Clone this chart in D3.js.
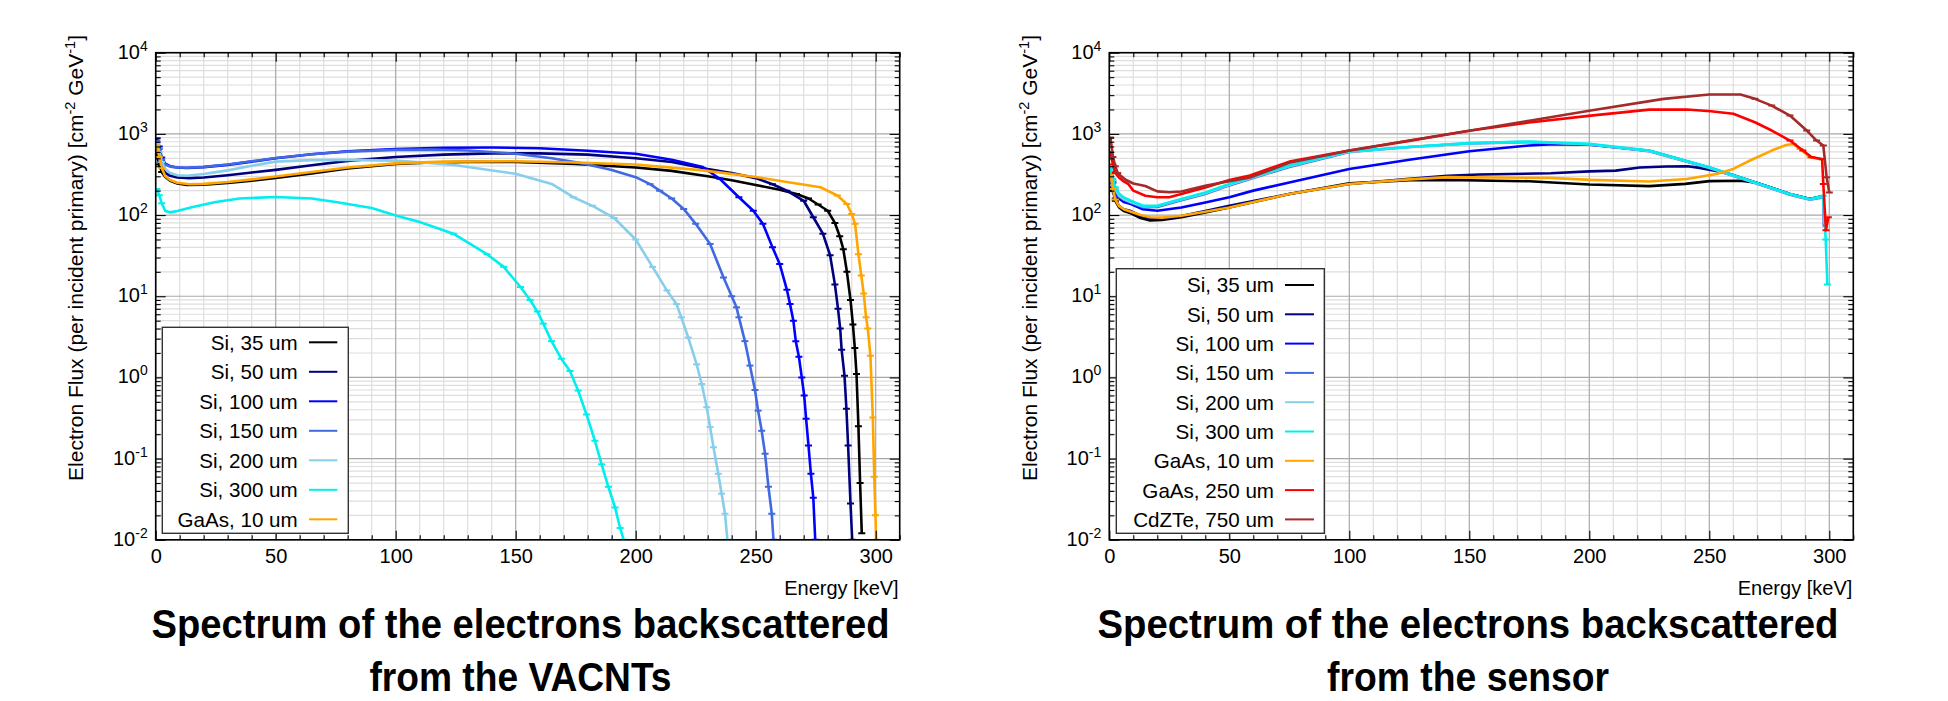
<!DOCTYPE html>
<html><head><meta charset="utf-8">
<script src="https://cdn.jsdelivr.net/npm/d3@7"></script>
<style>
body{margin:0;background:#fff;}
svg{display:block;}
text{font-family:"Liberation Sans",Arial,Helvetica,sans-serif;fill:#000;}
</style>
</head><body>
<svg id="chart" width="1948" height="701"></svg>
<script>
// ---------------- data ----------------
const xTicks = [0, 50, 100, 150, 200, 250, 300];
const yExponents = [-2, -1, 0, 1, 2, 3, 4];
const xTitle = "Energy [keV]";
const titlesVacnt = ["Spectrum of the electrons backscattered", "from the VACNTs"];
const titlesSensor = ["Spectrum of the electrons backscattered", "from the sensor"];
const seriesNames = ["Si, 35 um", "Si, 50 um", "Si, 100 um", "Si, 150 um", "Si, 200 um", "Si, 300 um", "GaAs, 10 um", "GaAs, 250 um", "CdZTe, 750 um"];
const seriesColors = ["#000000", "#000080", "#0000ff", "#4169e1", "#87ceeb", "#00eeee", "#ffa500", "#ff0000", "#a52a2a"];

// VACNTs panel: [energy keV, flux]
const vacntSi35 = [[0.5,560],[1.5,420],[2.5,340],[4,295],[6,265],[9,245],[13,235],[20,236],[30,248],[40,265],[50,287],[65,325],[80,375],[100,425],[115,445],[130,452],[150,450],[175,425],[200,385],[215,350],[230,300],[240,268],[250,235],[260,205],[267,182],[272,160],[276,135],[280,113],[283,80],[285,55],[286.5,38],[288,20],[289.5,9],[290.5,4.5],[291.3,2.3],[292,1.1],[292.8,0.25],[293.5,0.05],[294.2,0.012]];
const vacntSi50 = [[0.5,700],[1.5,520],[2.5,400],[4,330],[6,305],[9,290],[14,285],[20,290],[30,310],[40,335],[50,360],[65,410],[80,465],[100,520],[120,555],[140,575],[160,575],[180,555],[200,500],[215,450],[230,370],[240,330],[250,285],[257,240],[263,200],[270,150],[274,94],[278,59],[281,32],[283,14],[284.3,7],[285.2,4],[285.8,2.2],[287,1.05],[287.8,0.41],[288.5,0.145],[289.5,0.028],[290.2,0.01]];
const vacntSi100 = [[0.5,880],[1.5,700],[2.5,510],[4,430],[6,400],[9,385],[13,380],[20,390],[30,415],[40,455],[50,500],[65,560],[80,610],[100,650],[120,675],[140,680],[160,665],[180,620],[200,570],[215,480],[228,390],[235,280],[243,166],[249,113],[253,78],[257,40],[260,25],[263,12],[264.3,8],[265.7,5],[266.7,2.8],[268,1.8],[269.2,1.0],[270.2,0.6],[271,0.31],[272,0.145],[273,0.065],[274,0.033],[274.8,0.01]];
const vacntSi150 = [[0.5,820],[1.5,650],[2.5,480],[4,420],[6,395],[9,385],[13,382],[20,392],[30,420],[40,460],[50,505],[65,560],[80,605],[100,635],[115,640],[130,625],[150,570],[165,500],[179,427],[190,360],[200,293],[206,240],[210,200],[215,160],[220,119],[225,78],[231,44],[236.6,17],[240,10],[242,7.3],[243,5.5],[245.5,2.8],[247.6,1.4],[249.7,0.7],[251,0.39],[252.5,0.22],[253.9,0.115],[255.3,0.045],[256.7,0.021],[257.4,0.01]];
const vacntSi200 = [[0.5,750],[1.5,600],[2.5,450],[4,370],[6,330],[9,310],[13,305],[20,320],[30,355],[40,405],[50,455],[65,475],[80,478],[100,468],[110,448],[125,410],[150,322],[165,242],[174,166],[182,130],[191,92],[200,50],[207,23],[213,11.8],[217,8],[219,5.5],[221.9,3.1],[225.4,1.45],[227.5,0.83],[229.6,0.43],[231,0.245],[232.4,0.138],[234.4,0.065],[235.8,0.037],[237.2,0.021],[238.2,0.01]];
const vacntSi300 = [[0.5,210],[1.5,175],[2.5,140],[4,112],[6,108],[9,112],[15,125],[25,145],[35,160],[50,167],[65,160],[75,145],[90,122],[100,99],[110,82],[124,59],[138,33],[145,23],[152,13],[156,9],[159,6.5],[161.5,4.6],[164.9,2.8],[169,1.7],[172.6,1.2],[176,0.69],[179.5,0.35],[183,0.166],[185.8,0.085],[188.6,0.045],[191.4,0.025],[193.5,0.014],[195,0.01]];
const vacntGaAs10 = [[0.5,720],[1.5,520],[2.5,380],[4,300],[6,270],[9,250],[14,240],[20,242],[30,255],[40,275],[50,298],[65,340],[80,385],[100,433],[120,455],[150,460],[175,445],[200,420],[228,355],[250,295],[263,255],[277,220],[284,174],[288,137],[290,103],[291.4,78],[292.8,33],[294,18],[295,10.8],[296,5.5],[296.7,4],[297.8,1.85],[298.8,0.32],[299.4,0.06],[299.9,0.02],[300.2,0.01]];

// Sensor panel
const sensorSi35 = [[0.5,300],[1.5,200],[2.5,150],[4,125],[6,112],[9,105],[13,92],[17,86],[22,87],[30,94],[40,108],[50,124],[75,182],[100,246],[125,268],[141,271],[160,265],[175,261],[200,238],[225,227],[240,242],[250,262],[263,265],[269,253],[283.6,182],[292,158],[294.7,165],[297,170]];
const sensorSi50 = [[0.5,320],[1.5,220],[2.5,160],[4,130],[6,118],[9,112],[13,98],[17,92],[22,90],[30,97],[40,112],[50,130],[75,182],[100,241],[125,279],[141,305],[154,316],[184,327],[200,345],[211,353],[221,385],[232,397],[241,399],[246,381],[251.7,353],[258.6,320],[269,253],[283.6,182],[292,158],[294.7,165],[297,170]];
const sensorSi100 = [[0.5,350],[1.5,250],[2.5,190],[4,160],[6,145],[9,137],[14,118],[20,113],[30,124],[40,143],[50,166],[60,200],[75,252],[100,370],[125,480],[150,610],[175,720],[185,745],[200,735],[225,620],[250,385],[269,252],[283.6,181],[292,157],[294.7,163],[297,168]];
const sensorSi150 = [[0.5,360],[1.5,260],[2.5,200],[4,170],[6,155],[9,142],[14,125],[20,126],[30,152],[40,182],[50,232],[75,392],[100,600],[125,690],[150,760],[175,790],[200,740],[225,610],[250,380],[269,248],[283.6,178],[292,155],[294.7,160],[297.5,165],[297.7,72]];
const sensorSi200 = [[0.5,360],[1.5,270],[2.5,210],[4,175],[6,158],[9,145],[14,128],[20,129],[30,155],[40,186],[50,236],[75,400],[100,605],[125,690],[150,770],[175,800],[200,745],[225,615],[250,383],[269,250],[283.6,180],[292,156],[294.7,162],[297.5,168],[297.9,78]];
const sensorSi300 = [[0.5,380],[1.5,280],[2.5,220],[4,185],[6,165],[9,150],[14,130],[20,130],[30,158],[40,190],[50,241],[75,407],[100,612],[125,690],[150,770],[175,804],[200,753],[225,623],[250,388],[269,253],[283.6,182],[292,158],[294.7,165],[297.5,173],[298.5,50],[299.2,14]];
const sensorGaAs10 = [[0.5,320],[1.5,210],[2.5,155],[4,130],[6,118],[9,110],[13,100],[17,94],[22,93],[30,98],[40,110],[50,124],[75,182],[100,241],[125,275],[141,293],[160,290],[183.6,287],[200.6,271],[225,259],[240.6,278],[253,321],[260,370],[267,470],[276,623],[282,730],[285,750],[287.8,653],[292,516],[296,490],[297.2,480]];
const sensorGaAs250 = [[0.5,600],[1.5,420],[2.5,330],[4,290],[6,260],[8,240],[10,200],[15,173],[20,166],[25,166],[30,182],[40,219],[50,270],[58.6,307],[75,455],[100,623],[125,820],[150.6,1100],[175,1380],[200.6,1680],[225,1990],[240.6,2000],[250.6,1900],[260,1770],[269,1390],[276,1100],[283.6,828],[289,623],[292.7,516],[297,490],[297.5,241],[298.6,65],[299.6,94]];
const sensorCdZTe750 = [[0.5,900],[1.5,520],[2.5,400],[3.5,330],[5,300],[7,270],[10,245],[13,235],[15,228],[20,196],[25,191],[30,195],[40,230],[50,262],[58.6,290],[75,440],[100,623],[125,827],[150.6,1100],[175,1450],[200.6,1940],[231,2700],[250,3050],[263,3050],[269,2700],[276,2230],[283.6,1680],[290.6,1100],[294.7,828],[297.5,720],[298.9,292],[300,190]];

const vacntSeries = [vacntSi35, vacntSi50, vacntSi100, vacntSi150, vacntSi200, vacntSi300, vacntGaAs10];
const sensorSeries = [sensorSi35, sensorSi50, sensorSi100, sensorSi150, sensorSi200, sensorSi300, sensorGaAs10, sensorGaAs250, sensorCdZTe750];

// ---------------- layout ----------------
const svg = d3.select("#chart");
const yTop = 52.7, yBot = 539.8;

const panels = [
  {key:"v", x0:155.7, x1:899.7, series:vacntSeries, titles:titlesVacnt, titleCx:520.5, titleW:[738,302],
   ytitleX:83, legend:{x0:162.3, x1:348.3, y0:327.3, y1:533.3, textX:297.7, s0:309, s1:337.3, row0:342.3, dy:29.5},
   capRule:"frac"},
  {key:"s", x0:1109.3, x1:1853.3, series:sensorSeries, titles:titlesSensor, titleCx:1468, titleW:[741,282],
   ytitleX:1036.7, legend:{x0:1116.3, x1:1324.3, y0:268.7, y1:533.3, textX:1274, s0:1285, s1:1314, row0:285, dy:29.3},
   capRule:"end"}
];

function minorDecadeValues() {
  const out = [];
  for (let e = -2; e < 4; e++) for (let k = 2; k <= 9; k++) out.push(k * Math.pow(10, e));
  return out;
}

panels.forEach((p, pi) => {
  const x = d3.scaleLinear().domain([0, 310]).range([p.x0, p.x1]);
  const y = d3.scaleLog().domain([0.01, 10000]).range([yBot, yTop]);
  const g = svg.append("g");
  const majorX = xTicks;
  const minorX = d3.range(0, 311, 10).filter(v => v % 50 !== 0);
  const majorY = yExponents.map(e => Math.pow(10, e));
  const minorY = minorDecadeValues();

  // grid
  const grid = g.append("g");
  grid.selectAll("line.mnx").data(minorX).join("line")
    .attr("x1", d => x(d)).attr("x2", d => x(d)).attr("y1", yTop).attr("y2", yBot)
    .attr("stroke", "#dedede").attr("stroke-width", 1.2);
  grid.selectAll("line.mny").data(minorY).join("line")
    .attr("x1", p.x0).attr("x2", p.x1).attr("y1", d => y(d)).attr("y2", d => y(d))
    .attr("stroke", "#dedede").attr("stroke-width", 1.2);
  grid.selectAll("line.mjx").data(majorX).join("line")
    .attr("x1", d => x(d)).attr("x2", d => x(d)).attr("y1", yTop).attr("y2", yBot)
    .attr("stroke", "#a8a8a8").attr("stroke-width", 1.2);
  grid.selectAll("line.mjy").data(majorY).join("line")
    .attr("x1", p.x0).attr("x2", p.x1).attr("y1", d => y(d)).attr("y2", d => y(d))
    .attr("stroke", "#a8a8a8").attr("stroke-width", 1.2);

  // clip
  const clipId = "clip" + p.key;
  svg.append("clipPath").attr("id", clipId).append("rect")
    .attr("x", p.x0).attr("y", yTop).attr("width", p.x1 - p.x0).attr("height", yBot - yTop);

  const line = d3.line().x(d => x(d[0])).y(d => y(d[1]));
  const dataG = g.append("g").attr("clip-path", `url(#${clipId})`);
  p.series.forEach((s, si) => {
    const col = seriesColors[si];
    dataG.append("path").datum(s).attr("d", line)
      .attr("fill", "none").attr("stroke", col).attr("stroke-width", 2.6)
      .attr("stroke-linejoin", "round");
    // error-bar caps
    let peak = 0, peakE = 0;
    s.forEach(d => { if (d[0] > 5 && d[1] > peak) { peak = d[1]; peakE = d[0]; } });
    const caps = s.filter(d => d[0] < 4 ||
      (p.capRule === "frac" ? (d[0] > peakE && d[1] < 0.45 * peak) : (d[0] > 283 && si >= 5)) ||
      (p.capRule === "end" && si === 8 && d[0] > 265));
    dataG.selectAll(null).data(caps).join("line")
      .attr("x1", d => x(d[0]) - 3.5).attr("x2", d => x(d[0]) + 3.5)
      .attr("y1", d => y(d[1])).attr("y2", d => y(d[1]))
      .attr("stroke", col).attr("stroke-width", 2);
  });

  // axes
  const axB = g.append("g").attr("transform", `translate(0,${yBot})`)
    .call(d3.axisBottom(x).tickValues(majorX).tickSize(-9).tickPadding(9).tickFormat(d3.format("d")));
  axB.selectAll("text").attr("font-size", 20).attr("font-family", '"Liberation Sans",Arial,sans-serif').attr("fill", "#000");
  g.append("g").attr("transform", `translate(0,${yBot})`)
    .call(d3.axisBottom(x).tickValues(minorX).tickSize(-4.5).tickFormat(""));
  g.append("g").attr("transform", `translate(0,${yTop})`)
    .call(d3.axisTop(x).tickValues(majorX).tickSize(-9).tickFormat(""));
  g.append("g").attr("transform", `translate(0,${yTop})`)
    .call(d3.axisTop(x).tickValues(minorX).tickSize(-4.5).tickFormat(""));

  const axL = g.append("g").attr("transform", `translate(${p.x0},0)`)
    .call(d3.axisLeft(y).tickValues(majorY).tickSize(-10).tickPadding(8).tickFormat(""));
  g.append("g").attr("transform", `translate(${p.x0},0)`)
    .call(d3.axisLeft(y).tickValues(minorY).tickSize(-5).tickFormat(""));
  g.append("g").attr("transform", `translate(${p.x1},0)`)
    .call(d3.axisRight(y).tickValues(majorY).tickSize(-10).tickFormat(""));
  g.append("g").attr("transform", `translate(${p.x1},0)`)
    .call(d3.axisRight(y).tickValues(minorY).tickSize(-5).tickFormat(""));

  axL.selectAll(".tick text").each(function(d) {
    const t = d3.select(this).attr("font-size", 20).attr("fill", "#000")
      .attr("font-family", '"Liberation Sans",Arial,sans-serif').attr("dy", "0.27em");
    t.append("tspan").text("10");
    t.append("tspan").attr("font-size", 14).attr("dy", -8).text(Math.round(Math.log10(d)));
  });

  g.selectAll(".domain").attr("stroke", "none");
  g.selectAll(".tick line").attr("stroke", "#000").attr("stroke-width", 1.1);

  // frame
  g.append("rect").attr("x", p.x0).attr("y", yTop).attr("width", p.x1 - p.x0).attr("height", yBot - yTop)
    .attr("fill", "none").attr("stroke", "#000").attr("stroke-width", 1.6);

  // axis titles
  g.append("text").attr("x", p.x1 - 1).attr("y", 595).attr("text-anchor", "end")
    .attr("font-size", 20).text(xTitle);
  const yt = g.append("text").attr("transform", `translate(${p.ytitleX},35) rotate(-90)`)
    .attr("text-anchor", "end").attr("font-size", 21);
  yt.append("tspan").text("Electron Flux (per incident primary) [cm");
  yt.append("tspan").attr("font-size", 14.5).attr("dy", -8).text("-2");
  yt.append("tspan").attr("dy", 8).text(" GeV");
  yt.append("tspan").attr("font-size", 14.5).attr("dy", -8).text("-1");
  yt.append("tspan").attr("dy", 8).text("]");

  // legend
  const L = p.legend;
  const lg = g.append("g");
  lg.append("rect").attr("x", L.x0).attr("y", L.y0).attr("width", L.x1 - L.x0).attr("height", L.y1 - L.y0)
    .attr("fill", "#fff").attr("stroke", "#333").attr("stroke-width", 1.4);
  const rows = seriesNames.slice(0, p.series.length);
  const ly = i => L.row0 + i * L.dy;
  lg.selectAll("text.leg").data(rows).join("text")
    .attr("x", L.textX).attr("y", (d, i) => ly(i) + 7.4).attr("text-anchor", "end")
    .attr("font-size", 20.6).text(d => d);
  lg.selectAll("line.leg").data(rows).join("line")
    .attr("x1", L.s0).attr("x2", L.s1).attr("y1", (d, i) => ly(i)).attr("y2", (d, i) => ly(i))
    .attr("stroke", (d, i) => seriesColors[i]).attr("stroke-width", 2);

  // titles
  const tl = g.append("g");
  p.titles.forEach((t, i) => {
    tl.append("text").attr("x", p.titleCx).attr("y", i === 0 ? 638 : 691)
      .attr("text-anchor", "middle").attr("font-size", 41).attr("font-weight", "bold")
      .attr("fill", "#222")
      .attr("textLength", p.titleW[i]).attr("lengthAdjust", "spacingAndGlyphs")
      .text(t);
  });
});
</script>
</body></html>
